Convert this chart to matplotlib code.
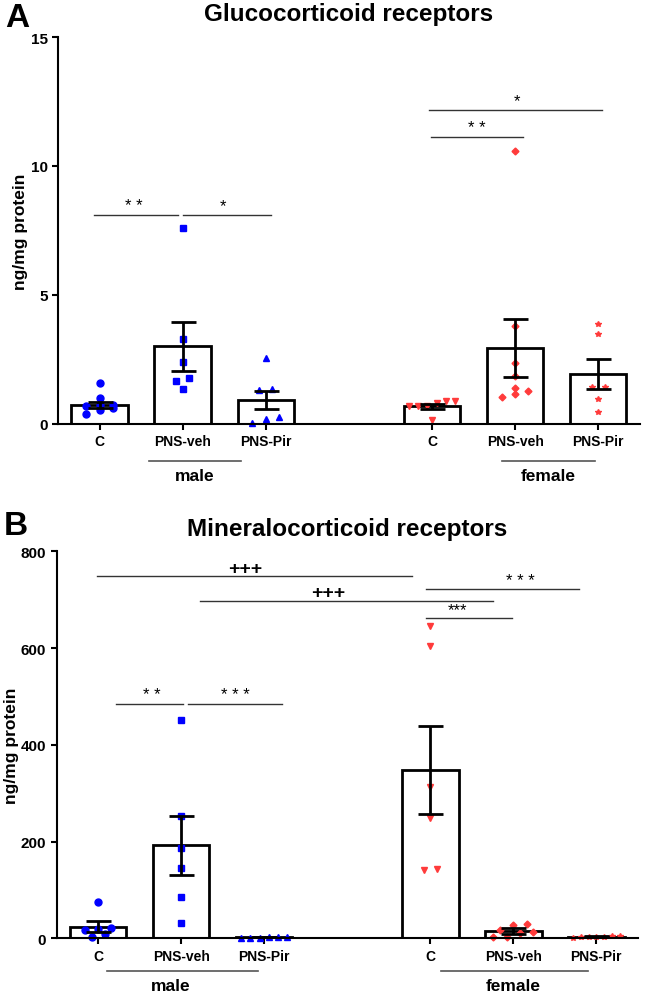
import numpy as np
import matplotlib.pyplot as plt
import matplotlib.transforms as mtransforms

plt.rcParams['font.family'] = ['Liberation Sans', 'DejaVu Sans']

groups = ["C", "PNS-veh", "PNS-Pir", "C", "PNS-veh", "PNS-Pir"]
xpos = [0, 1, 2, 4, 5, 6]

# panel A: glucocorticoid receptors (ng/mg protein)
gr_mean = [0.75, 3.02, 0.92, 0.68, 2.95, 1.93]
gr_sem = [0.12, 0.95, 0.35, 0.11, 1.13, 0.57]
gr_pts = [
    [0.72, 0.6, 0.38, 1.58, 1.0, 0.55, 0.7, 0.72],
    [7.58, 3.29, 2.39, 1.77, 1.68, 1.36],
    [2.56, 1.3, 1.35, 0.28, 0.05, 0.2],
    [0.9, 0.82, 0.68, 0.68, 0.68, 0.9, 0.17],
    [10.58, 3.79, 2.36, 1.85, 1.27, 1.06, 1.16, 1.38],
    [3.88, 3.49, 1.42, 1.42, 0.97, 0.45],
]

# panel B: mineralocorticoid receptors (ng/mg protein)
mr_mean = [24, 192, 2, 348, 14.5, 3]
mr_sem = [11, 61, 1, 91, 6, 1]
mr_pts = [
    [74, 20, 22, 18, 8, 2],
    [451, 252, 186, 145, 85, 31],
    [1, 0.5, 2, 3, 1.5, 2],
    [646, 604, 312, 249, 142, 144],
    [27, 29, 18, 12, 2, 3, 10],
    [4, 2, 5, 3, 1, 2, 3],
]

markers = ["o", "s", "^", "v", "D", "*"]
colors = ["#0000ff"] * 3 + ["#ff3b3b"] * 3
msizes = [5, 4.5, 5, 4, 3.5, 4]

fig = plt.figure(figsize=(6.45, 9.95), dpi=100)
axA = fig.add_axes([0.0899, 0.5729, 0.902, 0.3889])
axB = fig.add_axes([0.0879, 0.0560, 0.901, 0.3889])


def spread(vals, tol):
    # crude beeswarm: points closer than tol get pushed sideways
    vals = np.asarray(vals, float)
    order = np.argsort(vals)
    offs = np.zeros(len(vals))
    i = 0
    while i < len(order):
        j = i
        while j + 1 < len(order) and vals[order[j + 1]] - vals[order[i]] < tol:
            j += 1
        n = j - i + 1
        if n > 1:
            w = min(0.08 * (n - 1), 0.28)
            offs[order[i:j + 1]] = np.linspace(-w, w, n)
        i = j + 1
    return offs


def draw(ax, mean, sem, pts, ymax, tol, ylab_x):
    ax.bar(xpos, mean, width=0.68, color="white", edgecolor="black", linewidth=2, zorder=1)
    for k in range(6):
        off = spread(pts[k], tol)
        ax.plot(np.array(xpos[k]) + off, pts[k], linestyle="none", marker=markers[k],
                color=colors[k], markersize=msizes[k], zorder=2, clip_on=False)
    ax.errorbar(xpos, mean, yerr=sem, fmt="none", ecolor="black", elinewidth=2,
                capsize=9, capthick=2, zorder=3)
    ax.set_xlim(-0.5, 6.5)
    ax.set_ylim(0, ymax)
    for s in ["top", "right"]:
        ax.spines[s].set_visible(False)
    for s in ["left", "bottom"]:
        ax.spines[s].set_linewidth(1.5)
    ax.set_xticks(xpos)
    ax.set_xticklabels(groups, fontsize=10, fontweight="bold")
    ax.tick_params(axis="both", width=1.5, length=4)
    ax.tick_params(axis="y", labelsize=11)
    for t in ax.get_yticklabels():
        t.set_fontweight("bold")
    ax.set_ylabel("ng/mg protein", fontsize=12.5, fontweight="bold")
    ax.yaxis.set_label_coords(ylab_x, 0.5)


def sig(ax, x0, x1, y, txt, tx, ty, bold=False, size=12):
    ax.plot([x0, x1], [y, y], color="#333333", linewidth=1, clip_on=False)
    ax.text(tx, ty, txt, ha="center", va="center", fontsize=size,
            fontweight="bold" if bold else "normal")


def group_line(ax, x0, x1, yl, label, lx, ly):
    tr = mtransforms.blended_transform_factory(ax.transData, ax.transAxes)
    ax.plot([x0, x1], [yl, yl], color="#555555", linewidth=1.2, transform=tr, clip_on=False)
    ax.text(lx, ly, label, transform=tr, ha="center", va="center", fontsize=12.5, fontweight="bold")


# panel A
draw(axA, gr_mean, gr_sem, gr_pts, 15, 0.25, -0.051)
axA.set_yticks([0, 5, 10, 15])
axA.set_title("Glucocorticoid receptors", fontsize=17.5, fontweight="bold", pad=12)
sig(axA, -0.07, 0.94, 8.1, "* *", 0.41, 8.45)
sig(axA, 1.0, 2.06, 8.1, "*", 1.49, 8.45)
sig(axA, 3.96, 6.04, 12.16, "*", 5.02, 12.55)
sig(axA, 3.99, 5.10, 11.12, "* *", 4.54, 11.5)
group_line(axA, 0.59, 1.70, -0.095, "male", 1.14, -0.132)
group_line(axA, 4.84, 5.96, -0.095, "female", 5.40, -0.132)
fig.text(0.027, 0.981, "A", fontsize=24, fontweight="bold", ha="center", va="center")

# panel B
draw(axB, mr_mean, mr_sem, mr_pts, 800, 12, -0.065)
axB.set_yticks([0, 200, 400, 600, 800])
axB.set_title("Mineralocorticoid receptors", fontsize=17.5, fontweight="bold", pad=12)
sig(axB, -0.01, 3.78, 748, "+++", 1.77, 765, bold=True, size=14)
sig(axB, 1.23, 4.76, 698, "+++", 2.77, 714, bold=True, size=14)
sig(axB, 3.95, 5.79, 723, "* * *", 5.08, 740)
sig(axB, 3.95, 4.98, 663, "***", 4.33, 680)
sig(axB, 0.22, 1.02, 484, "* *", 0.65, 503)
sig(axB, 1.08, 2.21, 484, "* * *", 1.65, 503)
group_line(axB, 0.10, 1.92, -0.084, "male", 0.87, -0.123)
group_line(axB, 4.13, 5.90, -0.084, "female", 5.00, -0.123)
fig.text(0.025, 0.471, "B", fontsize=24, fontweight="bold", ha="center", va="center")

fig.savefig("out.png", dpi=100)
